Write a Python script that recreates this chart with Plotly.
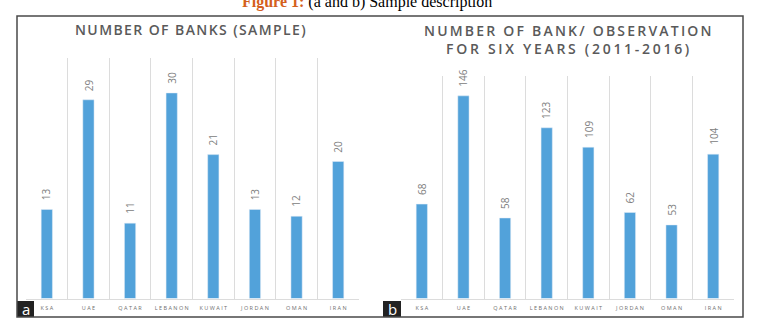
import plotly.graph_objects as go

categories = ["KSA", "UAE", "QATAR", "LEBANON", "KUWAIT", "JORDAN", "OMAN", "IRAN"]
banks = [13, 29, 11, 30, 21, 13, 12, 20]
observations = [68, 146, 58, 123, 109, 62, 53, 104]
title_a = "NUMBER OF BANKS (SAMPLE)"
title_b_1 = "NUMBER OF BANK/ OBSERVATION"
title_b_2 = "FOR SIX YEARS (2011-2016)"
caption_bold = "Figure 1:"
caption_rest = " (a and b) Sample description"

W, H = 768, 328
BAR = "#52a2da"
GRID = "#dcdcdc"
LABEL = "#808080"
TITLE = "#5a5a5a"

def px(x):
    return x / W

def py(y):
    return 1 - y / H

def spaced(s, sep="\u200a"):
    return sep.join(list(s))

tick_text = [" ".join(list(c)) for c in categories]

fig = go.Figure()
fig.add_trace(go.Bar(x=categories, y=banks, marker_color=BAR, xaxis="x", yaxis="y",
                     hoverinfo="skip"))
fig.add_trace(go.Bar(x=categories, y=observations, marker_color=BAR, xaxis="x2", yaxis="y2",
                     hoverinfo="skip"))

ax_common = dict(
    type="category", tickson="boundaries", showgrid=True, gridcolor=GRID, gridwidth=1,
    showline=True, linecolor=GRID, linewidth=1, ticks="", tickvals=categories,
    ticktext=tick_text, tickangle=0, ticklabelstandoff=4,
    tickfont=dict(family="Open Sans", size=5.5, color="#707070"),
    fixedrange=True, zeroline=False,
)
fig.update_layout(
    width=W, height=H, margin=dict(l=0, r=0, t=0, b=0),
    paper_bgcolor="white", plot_bgcolor="white", showlegend=False, bargap=0.73,
    xaxis=dict(domain=[px(26), px(359)], anchor="y", **ax_common),
    yaxis=dict(domain=[py(298.5), py(58)], range=[0, 35.1], visible=False, fixedrange=True),
    xaxis2=dict(domain=[px(401), px(734)], anchor="y2", **ax_common),
    yaxis2=dict(domain=[py(298.5), py(76)], range=[0, 160.3], visible=False, fixedrange=True),
)

ann = []
for c, v in zip(categories, banks):
    ann.append(dict(x=c, y=v, xref="x", yref="y", text=str(v), textangle=-90, showarrow=False,
                    yanchor="bottom", xanchor="center", yshift=7,
                    font=dict(family="Open Sans", size=10, color=LABEL)))
for c, v in zip(categories, observations):
    ann.append(dict(x=c, y=v, xref="x2", yref="y2", text=str(v), textangle=-90, showarrow=False,
                    yanchor="bottom", xanchor="center", yshift=7,
                    font=dict(family="Open Sans", size=10, color=LABEL)))

tfont = dict(family="Open Sans", size=14, color=TITLE, weight=600)
ann.append(dict(x=px(190.5), y=py(30), xref="paper", yref="paper", text=spaced(title_a),
                showarrow=False, xanchor="center", yanchor="middle", font=tfont))
ann.append(dict(x=px(567.5), y=py(39), xref="paper", yref="paper",
                text="<span style='letter-spacing:0.4px'>" + spaced(title_b_1) + "</span><br>"
                     "<span style='letter-spacing:0.65px'>" + spaced(title_b_2) + "</span>",
                showarrow=False, xanchor="center", yanchor="middle", font=tfont))
ann.append(dict(x=px(240), y=py(2), xref="paper", yref="paper",
                text="<b><span style='color:#d4601c'>" + caption_bold + "</span></b>" + caption_rest,
                showarrow=False, xanchor="left", yanchor="middle",
                font=dict(family="Liberation Serif", size=16, color="black")))
ann.append(dict(x=px(25.5), y=py(309), xref="paper", yref="paper", text="a", showarrow=False,
                xanchor="center", yanchor="middle", font=dict(family="Open Sans", size=15, color="white")))
ann.append(dict(x=px(392), y=py(309), xref="paper", yref="paper", text="b", showarrow=False,
                xanchor="center", yanchor="middle", font=dict(family="Open Sans", size=15, color="white")))

shapes = [
    dict(type="rect", xref="paper", yref="paper", x0=px(17), x1=px(743), y0=py(317), y1=py(16),
         line=dict(color="#4a4a4a", width=1.5), fillcolor="rgba(0,0,0,0)", layer="above"),
    dict(type="rect", xref="paper", yref="paper", x0=px(17), x1=px(34), y0=py(317), y1=py(301),
         line=dict(width=0), fillcolor="#222222", layer="below"),
    dict(type="rect", xref="paper", yref="paper", x0=px(383), x1=px(401), y0=py(317), y1=py(301),
         line=dict(width=0), fillcolor="#222222", layer="below"),
]
fig.update_layout(annotations=ann, shapes=shapes)
fig.write_html("out.html")
